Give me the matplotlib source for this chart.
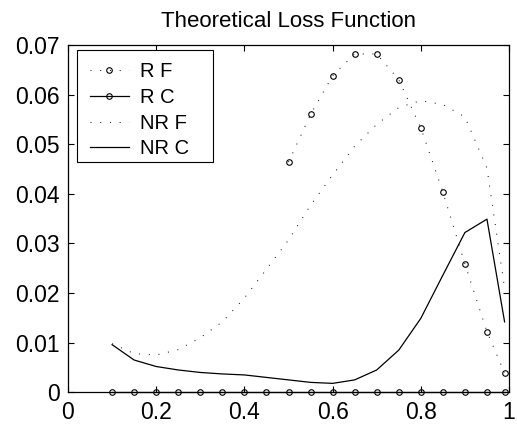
import numpy as np
import matplotlib
matplotlib.use('Agg')
import matplotlib.pyplot as plt
from matplotlib.patches import Rectangle

plt.rcParams['font.family'] = ['Liberation Sans', 'DejaVu Sans']

# data
x = [0.1, 0.15, 0.2, 0.25, 0.3, 0.35, 0.4, 0.45, 0.5, 0.55, 0.6, 0.65, 0.7,
     0.75, 0.8, 0.85, 0.9, 0.95, 0.99]
rf_x = [0.5, 0.55, 0.6, 0.65, 0.7, 0.75, 0.8, 0.85, 0.9, 0.95, 0.99]
rf = [0.0464, 0.0560, 0.0638, 0.0682, 0.0682, 0.0630, 0.0533, 0.0404, 0.0259,
      0.0122, 0.0039]
rc = [0.0] * len(x)
nrf = [0.0098, 0.0078, 0.0075, 0.0086, 0.0110, 0.0142, 0.0190, 0.0248, 0.0307,
       0.0377, 0.0438, 0.0496, 0.0540, 0.0574, 0.0588, 0.0580, 0.0555, 0.0452,
       0.0210]
nrc = [0.0096, 0.0065, 0.0052, 0.0045, 0.0040, 0.0037, 0.0035, 0.0030, 0.0025,
       0.0020, 0.0018, 0.0025, 0.0045, 0.0085, 0.0149, 0.0236, 0.0322, 0.0349,
       0.0142]
labels = ['R F', 'R C', 'NR F', 'NR C']

W, H = 517, 428
fig = plt.figure(figsize=(W/100, H/100), dpi=100)
ax = fig.add_axes([68/W, 1 - 392.3/H, (509 - 68)/W, (392.3 - 45)/H])

dots = (1, 9)
ax.plot(rf_x, rf, color='k', lw=0.7, dashes=dots, marker='o', ms=4,
        mfc='none', mew=0.8, label=labels[0])
ax.plot(x, rc, color='k', lw=0.9, marker='o', ms=4, mfc='none', mew=0.8,
        clip_on=False, label=labels[1])
ax.plot(x, nrf, color='k', lw=0.7, dashes=dots, label=labels[2])
ax.plot(x, nrc, color='k', lw=0.9, label=labels[3])

ax.set_xlim(0, 1)
ax.set_ylim(0, 0.07)
ax.set_xticks([0, 0.2, 0.4, 0.6, 0.8, 1])
ax.set_xticklabels(['0', '0.2', '0.4', '0.6', '0.8', '1'])
ax.set_yticks([0, 0.01, 0.02, 0.03, 0.04, 0.05, 0.06, 0.07])
ax.set_yticklabels(['0', '0.01', '0.02', '0.03', '0.04', '0.05', '0.06', '0.07'])
ax.tick_params(direction='in', length=4, width=0.8, top=True, right=True,
               labelsize=16.5, pad=6)
for s in ax.spines.values():
    s.set_linewidth(0.9)

ax.set_title('Theoretical Loss Function', fontsize=16, pad=13)

# legend without its own frame, box drawn separately (matlab-style wide box)
leg = ax.legend(loc='upper left', fontsize=14.5, numpoints=1,
                handlelength=1.93, handletextpad=0.55, labelspacing=0.33,
                borderpad=0.3, borderaxespad=0, frameon=False,
                bbox_to_anchor=(84/W, 1 - 56.3/H),
                bbox_transform=fig.transFigure)
leg.set_zorder(5)
box = Rectangle((77.3/W, 1 - 162.3/H), (212.7 - 77.3)/W, (162.3 - 50)/H,
                transform=fig.transFigure, facecolor='white',
                edgecolor='k', lw=0.8, zorder=4, clip_on=False)
ax.add_artist(box)

fig.savefig('out.png', dpi=100)
